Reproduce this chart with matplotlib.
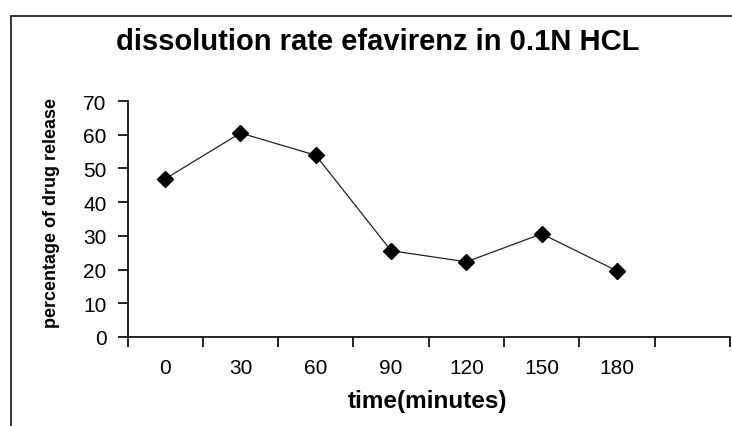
import matplotlib.pyplot as plt
from matplotlib.patches import Rectangle
from matplotlib.ticker import FixedLocator

plt.rcParams["font.family"] = ["Liberation Sans", "DejaVu Sans"]

# data
times = ["0", "30", "60", "90", "120", "150", "180"]
release = [46.9, 60.5, 53.9, 25.6, 22.3, 30.6, 19.6]
y_ticks = [0, 10, 20, 30, 40, 50, 60, 70]

W, H = 732, 427
fig = plt.figure(figsize=(W / 100, H / 100), dpi=100)

# outer chart frame (runs off right and bottom edges like the screenshot)
fig.patches.append(
    Rectangle((11 / W, -0.1), 1.2, 1 - 17 / H + 0.1, transform=fig.transFigure,
              fill=False, edgecolor="#333333", linewidth=1.4)
)

ax = fig.add_axes([127.5 / W, 1 - 338 / H, (730 - 127.5) / W, (338 - 102) / H])

ax.plot(times, release, color="#222222", linewidth=0.9, marker="D",
        markersize=8, markerfacecolor="black", markeredgecolor="black")

ax.set_ylim(0, 70)
ax.set_xlim(-0.5, len(times) + 0.5)
ax.set_yticks(y_ticks)

# category boundaries get tick marks, labels sit in between
ax.xaxis.set_minor_locator(FixedLocator([i - 0.5 for i in range(len(times) + 2)]))
ax.tick_params(axis="x", which="major", length=0, pad=15, labelsize=15)
ax.tick_params(axis="x", which="minor", length=7, width=1.2, direction="out")
ax.tick_params(axis="y", length=7, width=1.2, direction="out", pad=8, labelsize=15)

for s in ["top", "right"]:
    ax.spines[s].set_visible(False)
for s in ["left", "bottom"]:
    ax.spines[s].set_linewidth(1.2)

fig.text(378 / W, 1 - 50 / H, "dissolution rate efavirenz in 0.1N HCL",
         ha="center", va="baseline", fontsize=21, fontweight="bold")
fig.text(427 / W, 1 - 408 / H, "time(minutes)", ha="center", va="baseline",
         fontsize=17.5, fontweight="bold")
fig.text(52 / W, 1 - 213 / H, "percentage of drug release", ha="center",
         va="center", rotation=90, fontsize=13, fontweight="bold")

fig.savefig("out.png", dpi=100)
